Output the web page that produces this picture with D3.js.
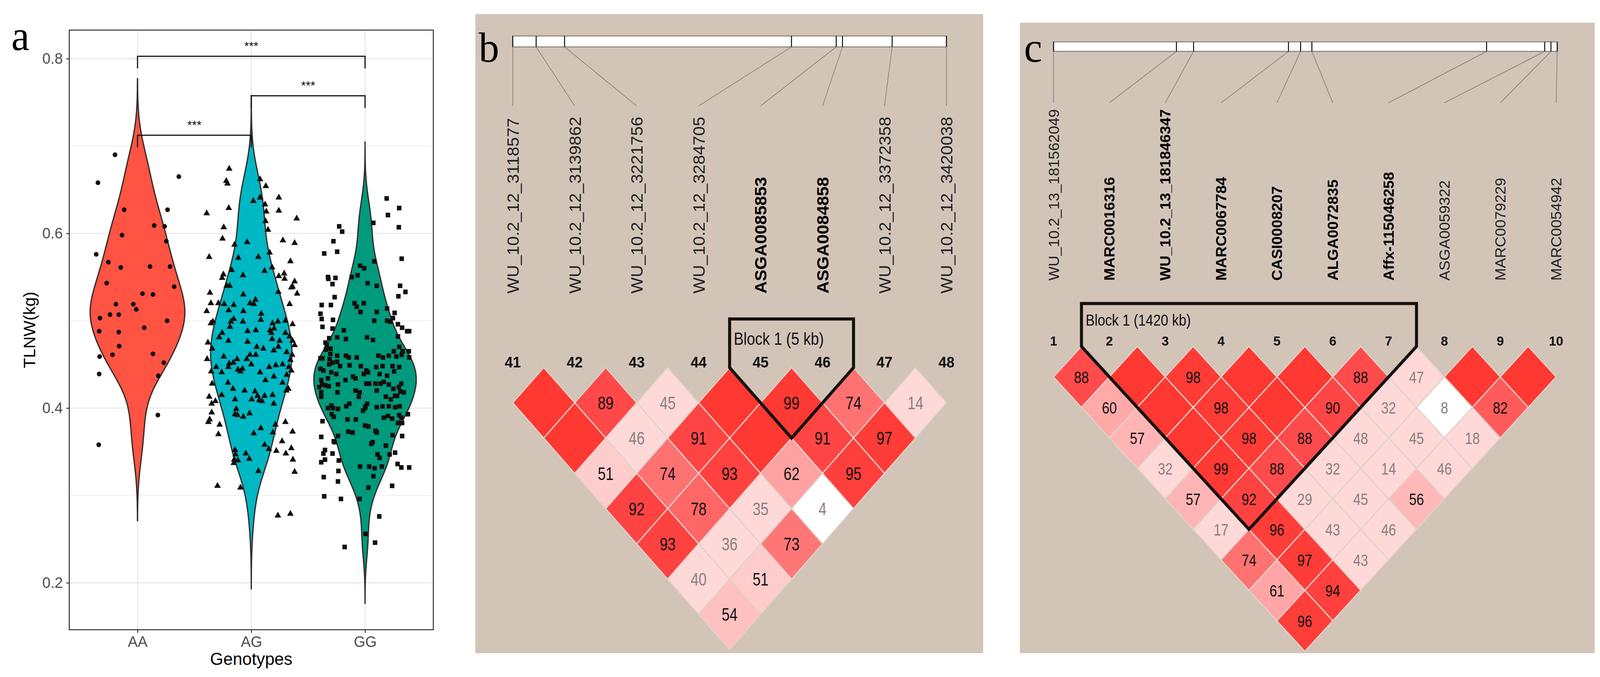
<!DOCTYPE html>
<html>
<head>
<meta charset="utf-8">
<script src="https://cdn.jsdelivr.net/npm/d3@7"></script>
<style>
  html, body { margin: 0; padding: 0; width: 100%; height: 100%; overflow: hidden; background: #fff; }
  #fig, svg { display: block; width: 100vw; height: 100vh; }
</style>
</head>
<body>
<div id="fig"></div>
<script>
// ---------- panel a data ----------
const genotypes = ['AA', 'AG', 'GG'];
const yTicks = [0.2, 0.4, 0.6, 0.8];
const yMinor = [0.3, 0.5, 0.7];
// [jitter offset (category units), TLNW kg]
const ptsAA = [[-0.198,0.690],[-0.348,0.658],[0.363,0.665],[-0.117,0.627],[0.264,0.627],[0.147,0.609],[0.238,0.608],[-0.136,0.598],[0.253,0.591],[-0.363,0.576],[-0.256,0.567],[-0.147,0.561],[0.110,0.562],[0.286,0.562],[-0.271,0.543],[0.322,0.539],[0.044,0.531],[0.136,0.530],[-0.190,0.519],[-0.037,0.519],[-0.011,0.513],[-0.330,0.503],[-0.242,0.507],[-0.165,0.507],[0.260,0.500],[0.059,0.492],[-0.337,0.488],[-0.165,0.487],[-0.161,0.471],[0.136,0.462],[-0.220,0.461],[-0.333,0.459],[0.231,0.452],[-0.337,0.439],[0.183,0.437],[0.179,0.392],[-0.341,0.358]];
const ptsAG = [[-0.194,0.674],[-0.220,0.660],[-0.209,0.657],[0.077,0.662],[0.128,0.654],[0.242,0.641],[-0.392,0.623],[-0.198,0.629],[0.018,0.637],[0.077,0.641],[0.121,0.633],[0.242,0.626],[0.132,0.625],[0.399,0.617],[0.125,0.614],[-0.242,0.607],[0.147,0.604],[-0.253,0.594],[-0.037,0.590],[-0.147,0.587],[0.278,0.592],[0.381,0.589],[0.161,0.578],[-0.370,0.573],[-0.114,0.572],[0.062,0.573],[0.344,0.568],[-0.172,0.558],[-0.073,0.552],[0.183,0.561],[0.117,0.557],[-0.245,0.553],[-0.256,0.549],[0.289,0.554],[0.242,0.551],[0.293,0.548],[0.381,0.545],[0.363,0.539],[0.352,0.538],[0.403,0.531],[-0.190,0.540],[-0.216,0.540],[0.238,0.533],[-0.363,0.532],[-0.070,0.530],[0.037,0.524],[-0.011,0.520],[0.022,0.519],[-0.355,0.520],[-0.289,0.520],[-0.238,0.519],[-0.154,0.518],[0.337,0.519],[-0.392,0.511],[-0.198,0.512],[-0.070,0.511],[0.088,0.508],[0.084,0.501],[-0.154,0.502],[-0.179,0.499],[-0.187,0.493],[-0.073,0.499],[-0.337,0.499],[-0.355,0.497],[0.187,0.497],[0.234,0.499],[0.300,0.500],[0.363,0.496],[-0.033,0.488],[0.040,0.489],[0.165,0.489],[0.201,0.491],[0.176,0.486],[-0.256,0.486],[-0.282,0.481],[0.300,0.486],[0.337,0.482],[0.363,0.477],[0.183,0.479],[0.249,0.477],[-0.201,0.477],[-0.381,0.475],[0.048,0.470],[-0.033,0.476],[-0.344,0.468],[-0.388,0.456],[-0.242,0.459],[-0.125,0.456],[-0.040,0.456],[0.040,0.461],[-0.011,0.461],[0.106,0.468],[0.198,0.466],[0.238,0.470],[0.311,0.464],[0.359,0.461],[0.344,0.455],[0.381,0.472],[-0.158,0.452],[0.000,0.450],[-0.308,0.447],[-0.201,0.447],[-0.117,0.444],[-0.077,0.445],[-0.194,0.451],[-0.095,0.442],[0.158,0.447],[0.216,0.449],[0.275,0.450],[0.330,0.447],[0.352,0.443],[-0.352,0.442],[-0.260,0.441],[0.077,0.441],[0.198,0.436],[0.311,0.438],[0.125,0.432],[-0.344,0.428],[-0.205,0.429],[-0.161,0.422],[-0.059,0.420],[0.033,0.419],[0.275,0.429],[0.308,0.420],[0.326,0.422],[-0.370,0.413],[-0.260,0.415],[0.055,0.414],[0.117,0.414],[0.187,0.415],[0.070,0.409],[0.095,0.408],[0.004,0.410],[-0.143,0.410],[-0.348,0.405],[-0.315,0.408],[0.198,0.405],[-0.132,0.399],[-0.348,0.395],[-0.366,0.387],[-0.377,0.384],[-0.143,0.393],[-0.070,0.390],[-0.015,0.394],[-0.121,0.392],[-0.278,0.381],[0.212,0.381],[0.300,0.384],[0.084,0.377],[0.190,0.372],[0.363,0.373],[0.022,0.371],[-0.289,0.370],[-0.143,0.352],[-0.139,0.347],[-0.150,0.341],[-0.117,0.340],[-0.154,0.337],[0.117,0.358],[0.154,0.353],[0.271,0.362],[0.220,0.351],[-0.048,0.348],[-0.018,0.342],[0.304,0.348],[0.352,0.354],[0.366,0.341],[0.062,0.328],[0.381,0.327],[-0.297,0.311],[-0.095,0.309],[0.234,0.277],[0.344,0.279]];
const ptsGG = [[0.190,0.640],[0.300,0.629],[0.201,0.621],[0.073,0.612],[0.297,0.607],[-0.227,0.608],[-0.201,0.602],[-0.278,0.591],[-0.245,0.579],[-0.359,0.577],[0.322,0.571],[0.081,0.568],[-0.044,0.563],[-0.007,0.560],[-0.326,0.550],[-0.322,0.548],[-0.260,0.549],[-0.286,0.542],[-0.117,0.550],[-0.066,0.552],[0.022,0.543],[0.103,0.540],[0.308,0.540],[0.355,0.533],[0.293,0.528],[-0.267,0.527],[-0.381,0.518],[-0.300,0.518],[-0.092,0.520],[-0.073,0.516],[-0.011,0.520],[0.194,0.514],[0.260,0.509],[-0.040,0.510],[0.103,0.510],[-0.392,0.508],[-0.381,0.502],[-0.282,0.501],[0.245,0.503],[0.081,0.500],[0.194,0.500],[0.223,0.499],[0.289,0.496],[0.326,0.492],[0.370,0.488],[0.388,0.488],[-0.374,0.493],[-0.286,0.491],[-0.187,0.489],[-0.315,0.480],[-0.245,0.481],[-0.168,0.479],[0.018,0.481],[0.070,0.478],[0.289,0.482],[-0.348,0.475],[-0.337,0.472],[-0.344,0.467],[-0.304,0.468],[0.300,0.470],[0.253,0.465],[0.330,0.465],[0.385,0.465],[0.322,0.461],[-0.304,0.462],[-0.374,0.457],[-0.392,0.457],[-0.311,0.456],[-0.168,0.460],[-0.143,0.458],[-0.073,0.458],[-0.245,0.460],[0.117,0.460],[0.158,0.458],[0.209,0.460],[0.275,0.459],[0.388,0.458],[-0.286,0.452],[-0.245,0.453],[-0.315,0.450],[-0.220,0.448],[-0.136,0.449],[-0.037,0.448],[0.099,0.447],[0.154,0.448],[0.242,0.448],[0.300,0.447],[0.011,0.443],[0.026,0.441],[-0.392,0.445],[-0.366,0.443],[-0.297,0.441],[-0.253,0.439],[-0.106,0.436],[-0.011,0.439],[0.128,0.439],[0.194,0.437],[0.256,0.442],[-0.385,0.432],[-0.326,0.434],[-0.172,0.432],[-0.084,0.434],[0.011,0.428],[0.037,0.428],[0.092,0.428],[0.136,0.428],[0.165,0.430],[0.209,0.427],[0.319,0.428],[-0.377,0.427],[-0.348,0.426],[-0.238,0.427],[-0.403,0.424],[-0.319,0.425],[0.249,0.422],[0.297,0.424],[0.311,0.419],[0.341,0.418],[-0.084,0.420],[-0.048,0.418],[0.103,0.420],[-0.242,0.418],[-0.385,0.418],[-0.385,0.413],[0.264,0.414],[-0.055,0.413],[0.183,0.413],[0.227,0.410],[0.282,0.414],[-0.297,0.403],[-0.282,0.400],[-0.165,0.402],[0.004,0.402],[0.018,0.405],[0.103,0.401],[0.154,0.402],[0.209,0.402],[0.264,0.401],[0.304,0.402],[-0.326,0.400],[-0.238,0.399],[-0.293,0.393],[-0.139,0.405],[0.000,0.400],[-0.018,0.397],[0.377,0.393],[0.165,0.389],[0.201,0.391],[0.238,0.388],[0.300,0.392],[0.319,0.389],[-0.275,0.390],[0.289,0.383],[0.326,0.383],[-0.154,0.387],[-0.081,0.387],[0.000,0.380],[0.029,0.379],[-0.374,0.385],[-0.147,0.373],[-0.110,0.372],[0.092,0.374],[0.103,0.372],[0.326,0.368],[0.242,0.369],[-0.238,0.368],[-0.385,0.367],[-0.275,0.362],[-0.267,0.361],[0.066,0.361],[0.055,0.359],[0.183,0.357],[-0.352,0.352],[-0.366,0.348],[-0.286,0.348],[0.264,0.349],[0.110,0.347],[0.216,0.347],[0.128,0.343],[-0.385,0.338],[-0.352,0.341],[-0.231,0.340],[-0.044,0.333],[0.037,0.333],[0.084,0.331],[0.147,0.333],[0.286,0.336],[0.319,0.332],[0.388,0.332],[-0.234,0.328],[-0.363,0.321],[-0.238,0.316],[0.073,0.322],[0.029,0.309],[-0.048,0.296],[0.238,0.311],[-0.359,0.299],[-0.212,0.296],[0.125,0.276],[0.004,0.256],[0.088,0.246],[-0.179,0.241]];
// significance brackets: [from, to, height]
const brackets = [['AA', 'GG', 0.8027], ['AG', 'GG', 0.7575], ['AA', 'AG', 0.7123]];
const sigLabels = ['***', '***', '***'];

// ---------- panel b data ----------
const markersB = ['WU_10.2_12_3118577', 'WU_10.2_12_3139862', 'WU_10.2_12_3221756', 'WU_10.2_12_3284705', 'ASGA0085853', 'ASGA0084858', 'WU_10.2_12_3372358', 'WU_10.2_12_3420038'];
const boldB = [0, 0, 0, 0, 1, 1, 0, 0];
const numB = [41, 42, 43, 44, 45, 46, 47, 48];
const posB = [0, 18.6, 41.2, 221.7, 257.3, 262.3, 301.8, 345.0]; // kb
// D' x100 by distance row (row r = pairs i, i+r+1)
const dpB = [
  [100, 89, 45, 100, 99, 74, 14],
  [100, 46, 91, 100, 91, 97],
  [51, 74, 93, 62, 95],
  [92, 78, 35, 4],
  [93, 36, 73],
  [40, 51],
  [54]
];
const lowLodB = [[3, 7]];
const blockB = [4, 5];
const blockLabelB = 'Block 1 (5 kb)';

// ---------- panel c data ----------
const markersC = ['WU_10.2_13_181562049', 'MARC0016316', 'WU_10.2_13_181846347', 'MARC0067784', 'CASI0008207', 'ALGA0072835', 'Affx-115046258', 'ASGA0059322', 'MARC0079229', 'MARC0054942'];
const boldC = [0, 1, 1, 1, 1, 1, 1, 0, 0, 0];
const numC = [1, 2, 3, 4, 5, 6, 7, 8, 9, 10];
const posC = [0, 562.7, 641.2, 1075.7, 1131.2, 1182.9, 1982.9, 2249.0, 2277.7, 2306.4]; // kb
const dpC = [
  [88, 100, 98, 100, 100, 88, 47, 100, 100],
  [60, 100, 98, 100, 90, 32, 8, 82],
  [57, 100, 98, 88, 48, 45, 18],
  [32, 99, 88, 32, 14, 46],
  [57, 92, 29, 45, 56],
  [17, 96, 43, 46],
  [74, 97, 43],
  [61, 94],
  [96]
];
const lowLodC = [[6, 8]];
const blockC = [1, 6];
const blockLabelC = 'Block 1 (1420 kb)';

// ---------- setup ----------
const W = 4228, H = 1732;
const sans = '"Liberation Sans", Arial, Helvetica, sans-serif';
const serif = '"Liberation Serif", "Times New Roman", serif';
const svg = d3.select('#fig').append('svg')
  .attr('viewBox', `0 0 ${W} ${H}`)
  .attr('preserveAspectRatio', 'none')
  .attr('font-family', sans);
svg.append('rect').attr('width', W).attr('height', H).attr('fill', '#fff');

// ================= panel a =================
const pa = {left: 183, right: 1145, top: 77, bottom: 1611};
const x = d3.scalePoint().domain(genotypes).range([pa.left, pa.right]).padding(0.6);
const y = d3.scaleLinear().domain([0.1463, 0.8327]).range([pa.bottom, pa.top]);
const ga = svg.append('g');
const gridCol = '#ebe5e3';

ga.append('rect').attr('x', pa.left).attr('y', pa.top)
  .attr('width', pa.right - pa.left).attr('height', pa.bottom - pa.top).attr('fill', '#fff');
ga.selectAll('.gmin').data(yMinor).enter().append('line')
  .attr('x1', pa.left).attr('x2', pa.right).attr('y1', d => y(d)).attr('y2', d => y(d))
  .attr('stroke', gridCol).attr('stroke-width', 1.3);
ga.selectAll('.gmaj').data(yTicks).enter().append('line')
  .attr('x1', pa.left).attr('x2', pa.right).attr('y1', d => y(d)).attr('y2', d => y(d))
  .attr('stroke', gridCol).attr('stroke-width', 2.6);
ga.selectAll('.gx').data(genotypes).enter().append('line')
  .attr('x1', d => x(d)).attr('x2', d => x(d)).attr('y1', pa.top).attr('y2', pa.bottom)
  .attr('stroke', gridCol).attr('stroke-width', 2.6);

function nrd0(v) {
  const s = d3.deviation(v);
  const q = (d3.quantile(v, 0.75) - d3.quantile(v, 0.25)) / 1.34;
  const lo = Math.min(s, q) || s || 1;
  return 0.9 * lo * Math.pow(v.length, -0.2);
}
function kde(v, bw) {
  const lo = d3.min(v) - 3 * bw, hi = d3.max(v) + 3 * bw, n = 512, out = [];
  for (let i = 0; i < n; i++) {
    const t = lo + (hi - lo) * i / (n - 1);
    let s = 0;
    for (const a of v) { const z = (t - a) / bw; s += Math.exp(-0.5 * z * z); }
    out.push([t, s / (v.length * bw * Math.sqrt(2 * Math.PI))]);
  }
  return out;
}

const fills = ['#ff5343', '#00b7c4', '#009a7d'];
const shapes = [d3.symbolCircle, d3.symbolTriangle, d3.symbolSquare];
const shapeSize = [120, 130, 140];
const groups = genotypes.map((k, i) => {
  const pts = [ptsAA, ptsAG, ptsGG][i];
  const v = pts.map(p => p[1]);
  const bw = nrd0(v);
  return {key: k, pts, dens: kde(v, bw), i};
});
const maxDens = d3.max(groups, g => d3.max(g.dens, d => d[1]));
const wScale = d3.scaleLinear().domain([0, maxDens]).range([0, 0.45 * x.step()]);

groups.forEach(g => {
  const cx = x(g.key);
  const area = d3.area()
    .y(d => y(d[0]))
    .x0(d => cx - wScale(d[1]))
    .x1(d => cx + wScale(d[1]));
  ga.append('path').attr('d', area(g.dens))
    .attr('fill', fills[g.i]).attr('stroke', '#362e2c').attr('stroke-width', 3.4)
    .attr('stroke-linejoin', 'round');
});
groups.forEach(g => {
  const cx = x(g.key);
  const sym = d3.symbol().type(shapes[g.i]).size(shapeSize[g.i]);
  ga.append('g').selectAll('path').data(g.pts).enter().append('path')
    .attr('d', sym)
    .attr('transform', d => `translate(${cx + d[0] * x.step()},${y(d[1])})`)
    .attr('fill', '#130f0c');
});

// brackets
const tip = 0.0139;
brackets.forEach((b, i) => {
  const x1 = x(b[0]), x2 = x(b[1]), yy = y(b[2]), yt = y(b[2] - tip);
  ga.append('path').attr('d', `M${x1},${yt}V${yy}H${x2}V${yt}`)
    .attr('fill', 'none').attr('stroke', '#111').attr('stroke-width', 3);
  ga.append('text').attr('x', (x1 + x2) / 2).attr('y', yy - 15)
    .attr('text-anchor', 'middle').attr('font-size', 32).attr('fill', '#111')
    .text(sigLabels[i]);
});

// axes
const yAxis = ga.append('g').attr('transform', `translate(${pa.left},0)`)
  .call(d3.axisLeft(y).tickValues(yTicks).tickSize(8).tickPadding(9).tickFormat(d3.format('.1f')));
const xAxis = ga.append('g').attr('transform', `translate(0,${pa.bottom})`)
  .call(d3.axisBottom(x).tickSize(8).tickPadding(8));
[yAxis, xAxis].forEach(ax => {
  ax.select('.domain').remove();
  ax.selectAll('.tick line').attr('stroke', '#333').attr('stroke-width', 2.4);
  ax.selectAll('.tick text').attr('font-size', 39).attr('fill', '#4d4d4d').attr('font-family', sans);
});
xAxis.selectAll('.tick text').attr('dy', '0.72em');

ga.append('rect').attr('x', pa.left).attr('y', pa.top)
  .attr('width', pa.right - pa.left).attr('height', pa.bottom - pa.top)
  .attr('fill', 'none').attr('stroke', '#333').attr('stroke-width', 2.6);

ga.append('text').attr('x', (pa.left + pa.right) / 2).attr('y', 1701)
  .attr('text-anchor', 'middle').attr('font-size', 45).attr('fill', '#000').text('Genotypes');
ga.append('text').attr('transform', `translate(93,${(pa.top + pa.bottom) / 2}) rotate(-90)`)
  .attr('text-anchor', 'middle').attr('font-size', 43).attr('fill', '#000').text('TLNW(kg)');
svg.append('text').attr('x', 30).attr('y', 128).attr('font-family', serif)
  .attr('font-size', 108).attr('fill', '#000').text('a');

// ================= panels b, c =================
const ldRed = d3.scaleLinear().domain([50, 75, 90, 100])
  .range(['#ffd0d0', '#ff6e6e', '#ff4646', '#ff3831']);
function cellFill(v, low) {
  if (low) return '#ffffff';
  if (v < 50) return '#ffd8d8';
  return ldRed(v);
}

function drawLD(c) {
  const g = svg.append('g');
  const n = c.markers.length;
  g.append('rect').attr('x', c.bg[0]).attr('y', c.bg[1])
    .attr('width', c.bg[2] - c.bg[0]).attr('height', c.bg[3] - c.bg[1]).attr('fill', '#d3c4b8');
  const lx = d3.scaleLinear().domain([0, n - 1]).range(c.labelRange);
  const bx = d3.scaleLinear().domain([c.pos[0], c.pos[n - 1]]).range(c.barRange);
  const hw = (c.labelRange[1] - c.labelRange[0]) / (n - 1) / 2;
  const ry = d3.scaleLinear().domain([0, 1]).range([c.row0, c.row0 + c.rowH]);

  // chromosome bar
  g.append('rect').attr('x', c.barRange[0]).attr('y', c.barY[0])
    .attr('width', c.barRange[1] - c.barRange[0]).attr('height', c.barY[1] - c.barY[0])
    .attr('fill', '#fff').attr('stroke', '#8a807a').attr('stroke-width', 2.6);
  g.selectAll('.cn').data(c.pos).enter().append('line')
    .attr('x1', d => bx(d)).attr('y1', c.barY[1])
    .attr('x2', (d, i) => lx(i)).attr('y2', c.connY)
    .attr('stroke', '#8e8682').attr('stroke-width', 2);
  g.selectAll('.tk').data(c.pos).enter().append('line')
    .attr('x1', d => bx(d)).attr('x2', d => bx(d))
    .attr('y1', c.barY[0]).attr('y2', c.barY[1])
    .attr('stroke', '#111').attr('stroke-width', 2.6);

  // marker names
  g.selectAll('.lab').data(c.markers).enter().append('text')
    .attr('transform', (d, i) => `translate(${lx(i)},${c.labelBottom}) rotate(-90)`)
    .attr('dy', '0.36em').attr('font-size', c.labelFont)
    .attr('font-weight', (d, i) => c.bold[i] ? 'bold' : 'normal')
    .attr('fill', (d, i) => c.bold[i] ? '#000' : '#222')
    .text(d => d);
  // marker numbers
  g.selectAll('.num').data(c.nums).enter().append('text')
    .attr('x', (d, i) => lx(i)).attr('y', c.numY)
    .attr('text-anchor', 'middle').attr('font-size', c.numFont).attr('font-weight', 'bold')
    .attr('fill', '#111').text(d => d);

  // LD cells
  const cells = [];
  c.dp.forEach((row, r) => row.forEach((v, k) => {
    const low = c.lowLod.some(p => p[0] === k && p[1] === k + r + 1);
    cells.push({i: k, j: k + r + 1, r, v, low});
  }));
  const cg = g.append('g');
  cg.selectAll('path').data(cells).enter().append('path')
    .attr('d', d => {
      const cx = (lx(d.i) + lx(d.j)) / 2, cy = ry(d.r);
      return `M${cx},${cy - c.rowH}L${cx + hw},${cy}L${cx},${cy + c.rowH}L${cx - hw},${cy}Z`;
    })
    .attr('fill', d => cellFill(d.v, d.low))
    .attr('stroke', '#ded2ca').attr('stroke-width', 3);
  cg.selectAll('text').data(cells.filter(d => d.v < 100)).enter().append('text')
    .attr('transform', d => `translate(${(lx(d.i) + lx(d.j)) / 2},${ry(d.r)}) scale(0.82,1)`)
    .attr('dy', '0.36em').attr('text-anchor', 'middle').attr('font-size', c.cellFont)
    .attr('fill', d => d.v < 50 ? '#8a7f7d' : '#111')
    .text(d => d.v);

  // block outline
  const bl = lx(c.block[0]) - hw, br = lx(c.block[1]) + hw;
  const sh = c.row0 - c.rowH;
  const ax = (lx(c.block[0]) + lx(c.block[1])) / 2;
  const ay = ry(c.block[1] - c.block[0] - 1) + c.rowH;
  g.append('path').attr('d', `M${bl},${sh}V${c.blockTop}H${br}V${sh}L${ax},${ay}Z`)
    .attr('fill', 'none').attr('stroke', '#15110e').attr('stroke-width', 8)
    .attr('stroke-linejoin', 'miter');
  g.append('text').attr('x', bl + 11).attr('y', c.blockTextY)
    .attr('font-size', c.blockFont).attr('fill', '#111')
    .attr('textLength', c.blockTextLen).attr('lengthAdjust', 'spacingAndGlyphs')
    .text(c.blockLabel);

  svg.append('text').attr('x', c.letterX).attr('y', 158).attr('font-family', serif)
    .attr('font-size', 108).attr('fill', '#000').text(c.letter);
}

drawLD({
  letter: 'b', letterX: 1265,
  bg: [1256, 36, 2598, 1671],
  markers: markersB, bold: boldB, nums: numB, pos: posB, dp: dpB, lowLod: lowLodB,
  block: blockB, blockLabel: blockLabelB,
  labelRange: [1355, 2501], barRange: [1355, 2501], barY: [92, 120],
  connY: 271, labelBottom: 751, labelFont: 44,
  numY: 940, numFont: 38,
  row0: 1030.6, rowH: 90.2, cellFont: 46,
  blockTop: 816, blockTextY: 882, blockFont: 45, blockTextLen: 238
});
drawLD({
  letter: 'c', letterX: 2706,
  bg: [2695, 58, 4214, 1671],
  markers: markersC, bold: boldC, nums: numC, pos: posC, dp: dpC, lowLod: lowLodC,
  block: blockC, blockLabel: blockLabelC,
  labelRange: [2784, 4112], barRange: [2784, 4115], barY: [107, 131.5],
  connY: 263, labelBottom: 718, labelFont: 38.5,
  numY: 884, numFont: 34,
  row0: 964.3, rowH: 78, cellFont: 43,
  blockTop: 776.5, blockTextY: 833, blockFont: 41, blockTextLen: 278
});
</script>
</body>
</html>
